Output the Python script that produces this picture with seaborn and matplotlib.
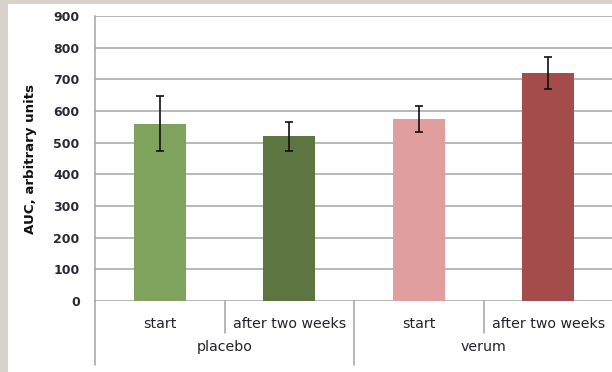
import matplotlib
matplotlib.use("Agg")
import matplotlib.pyplot as plt
import matplotlib.patches as mpatches
import numpy as np
import pandas as pd
import seaborn as sns

# Data
groups = ["placebo", "placebo", "verum", "verum"]
times = ["start", "after two weeks", "start", "after two weeks"]
auc_mean = [560, 520, 575, 720]
auc_err = [87, 45, 42, 50]
bar_colors = ["#7fa35c", "#5c7541", "#e19e9f", "#a44c4b"]
y_ticks = [0, 100, 200, 300, 400, 500, 600, 700, 800, 900]
y_label = "AUC, arbitrary units"

df = pd.DataFrame({
    "key": [f"{g}|{t}" for g, t in zip(groups, times)],
    "group": groups,
    "time": times,
    "auc": auc_mean,
})

sns.set_theme(style="white")
plt.rcParams["font.family"] = ["DejaVu Sans"]

W, H = 612, 372
fig = plt.figure(figsize=(W / 100, H / 100), dpi=100)
fig.patch.set_facecolor("#d9d2cb")
# white panel inside the beige frame
fig.add_artist(mpatches.Rectangle((8 / W, 0), 1, 1 - 4 / H, transform=fig.transFigure,
                                  facecolor="white", edgecolor="none", zorder=0))

ax = fig.add_axes([95 / W, 1 - 301 / H, (613 - 95) / W, (301 - 16) / H])
ax.set_facecolor("none")

sns.barplot(data=df, x="key", y="auc", hue="key", palette=bar_colors,
            width=0.4, legend=False, ax=ax, saturation=1, zorder=3,
            linewidth=0, edgecolor="none")

x = np.arange(len(auc_mean))
ax.errorbar(x, auc_mean, yerr=auc_err, fmt="none", ecolor="#111111",
            elinewidth=1.2, capsize=3.2, capthick=1.2, zorder=4)

grid_c = "#a4a4a4"
ax.set_ylim(0, 900)
ax.set_xlim(-0.5, len(auc_mean) - 0.5)
ax.set_yticks(y_ticks)
ax.yaxis.grid(True, color=grid_c, linewidth=1.1, zorder=1)
ax.set_axisbelow(True)
for s in ["top", "right", "bottom"]:
    ax.spines[s].set_visible(False)
ax.spines["left"].set_color(grid_c)
ax.spines["left"].set_linewidth(1.1)
ax.tick_params(axis="y", which="major", direction="out", length=5, width=1.1,
               color=grid_c, pad=6, labelsize=9, labelcolor="#2a2a36")
for lab in ax.get_yticklabels():
    lab.set_fontweight("bold")
ax.set_xticks([])
ax.set_xlabel("")
ax.set_ylabel(y_label, fontsize=9.6, fontweight="bold", color="#111111", labelpad=12)

# category axis: separators and two-level labels below the plot
trans = ax.get_xaxis_transform()
px = 1 / (301 - 16)  # one pixel in axes-y units
short = -32 * px
long = -64 * px
for xs, y_end in [(-0.5, long), (0.5, short), (1.5, long), (2.5, short)]:
    ax.plot([xs, xs], [0, y_end], transform=trans, color=grid_c, lw=1.1,
            clip_on=False, zorder=2)
for xi, t in zip(x, times):
    ax.text(xi, -23 * px, t, transform=trans, ha="center", va="center",
            fontsize=10.2, color="#222230")
for g in dict.fromkeys(groups):
    idx = [i for i, gg in enumerate(groups) if gg == g]
    ax.text(np.mean(idx), -46 * px, g, transform=trans, ha="center", va="center",
            fontsize=10.2, color="#222230")

fig.savefig("out.png", dpi=100, facecolor=fig.get_facecolor())
